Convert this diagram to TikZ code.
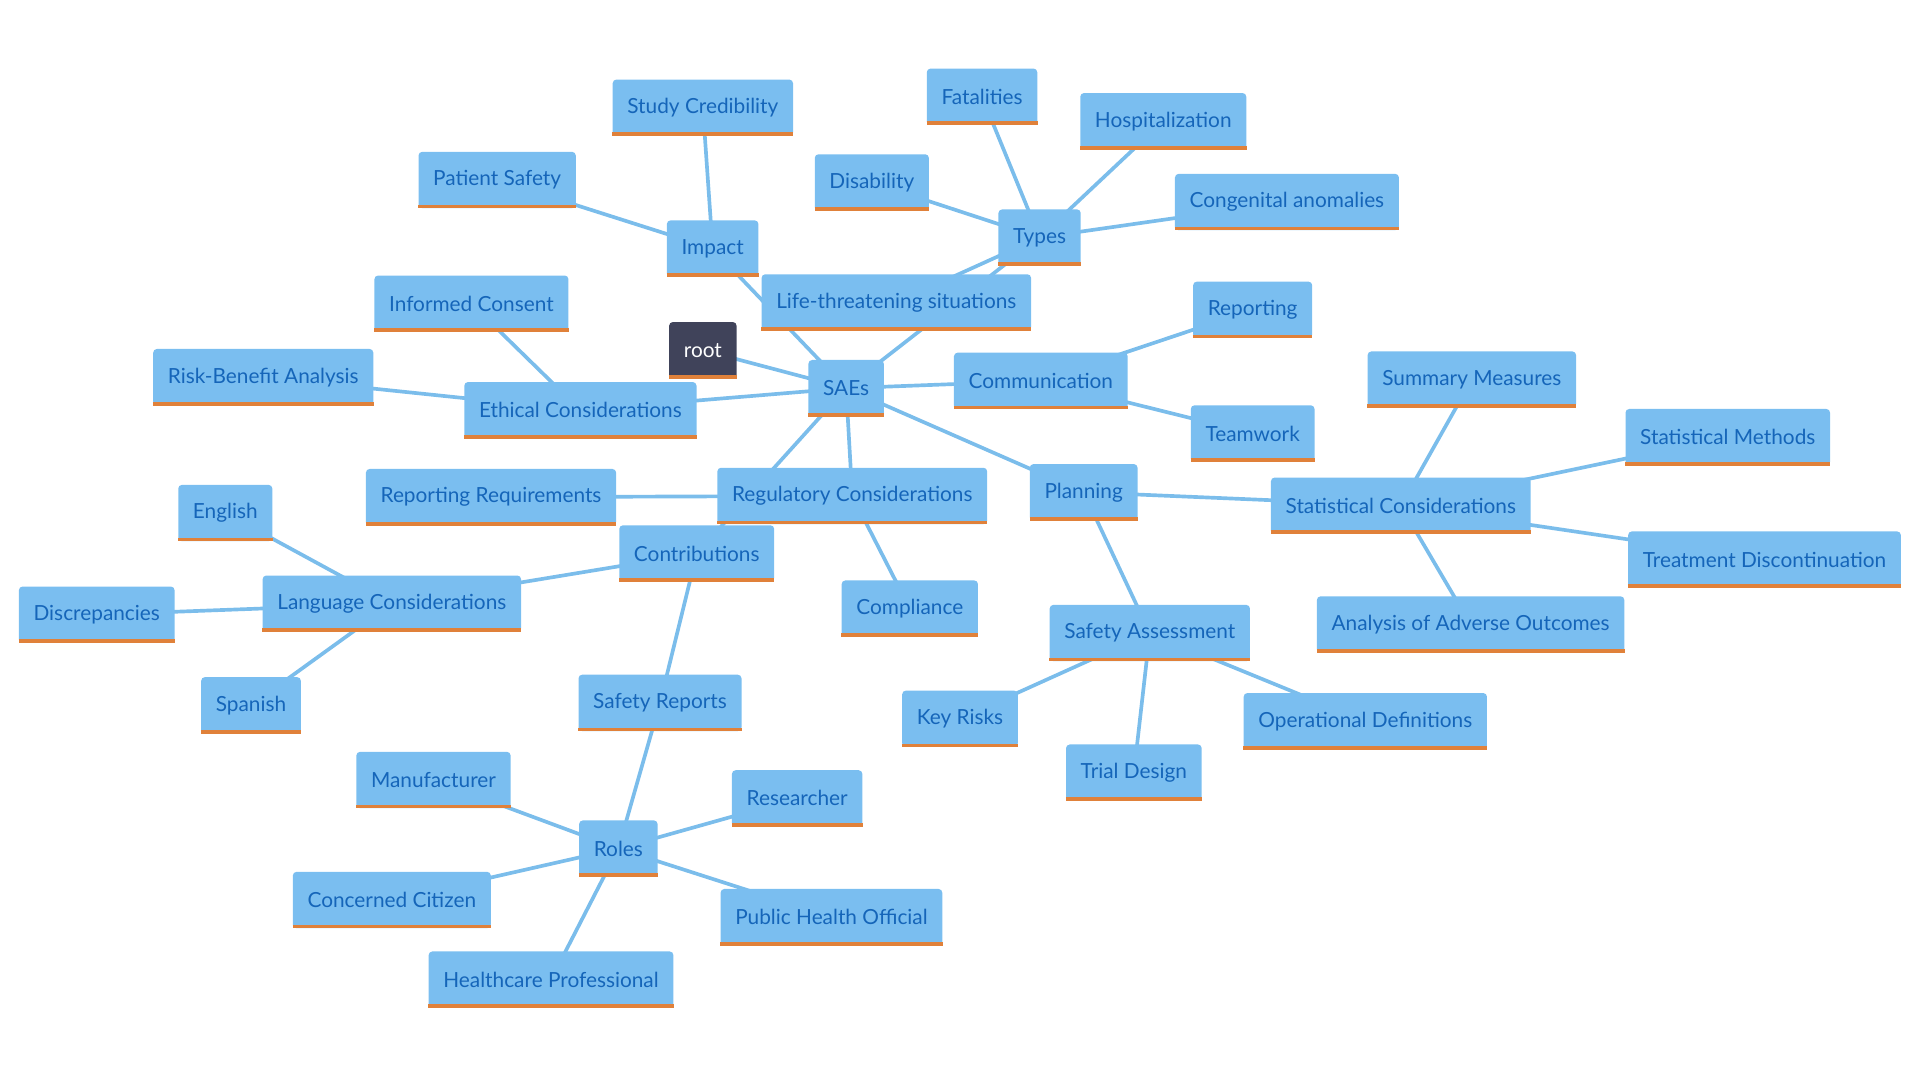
\documentclass[tikz,border=0pt]{standalone}
\usepackage{fontspec}
\setmainfont{Lato}
\usetikzlibrary{positioning}
\definecolor{boxblue}{HTML}{7ABEF0}
\definecolor{edgeblue}{HTML}{7BBDEB}
\definecolor{textblue}{HTML}{1565B9}
\definecolor{barorange}{HTML}{E0813A}
\definecolor{rootgray}{HTML}{40435A}
\pgfdeclarelayer{bg}
\pgfsetlayers{bg,main}
\tikzset{
  topic/.style={fill=boxblue,text=textblue,rounded corners=3pt,inner xsep=12pt,inner ysep=0pt,
    minimum height=46pt,font=\fontsize{17}{20}\selectfont,
    append after command={([yshift=1.5pt]\tikzlastnode.south west) edge[barorange,line width=3pt]
      ([yshift=1.5pt]\tikzlastnode.south east)}},
  rootbox/.style={topic,fill=rootgray,text=white},
  link/.style={edgeblue,line width=3pt}
}

\begin{document}
\begin{tikzpicture}[x=1pt,y=-1pt]
  \useasboundingbox (0,0) rectangle (1568,882);
  % centre
  \node[rootbox] (root) at (574,286) {root};
  \node[topic] (saes) at (691,317) {SAEs};
  % impact and types
  \node[topic] (impact) at (582,203) {Impact};
  \node[topic] (patient) at (406,147) {Patient Safety};
  \node[topic] (credib) at (574,88) {Study Credibility};
  \node[topic] (types) at (849,194) {Types};
  \node[topic] (fatal) at (802,79) {Fatalities};
  \node[topic] (hosp) at (950,99) {Hospitalization};
  \node[topic] (disab) at (712,149) {Disability};
  \node[topic] (congen) at (1051,165) {Congenital anomalies};
  \node[topic] (life) at (732,247) {Life-threatening situations};
  % communication
  \node[topic] (comm) at (850,311) {Communication};
  \node[topic] (report) at (1023,253) {Reporting};
  \node[topic] (team) at (1023,354) {Teamwork};
  % ethics and regulation
  \node[topic] (ethics) at (474,335) {Ethical Considerations};
  \node[topic] (consent) at (385,248) {Informed Consent};
  \node[topic] (riskben) at (215,308) {Risk-Benefit Analysis};
  \node[topic] (regul) at (696,405) {Regulatory Considerations};
  \node[topic] (repreq) at (401,406) {Reporting Requirements};
  \node[topic] (compl) at (743,497) {Compliance};
  % contributions
  \node[topic] (contrib) at (569,452) {Contributions};
  \node[topic] (lang) at (320,493) {Language Considerations};
  \node[topic] (english) at (184,419) {English};
  \node[topic] (discrep) at (79,502) {Discrepancies};
  \node[topic] (spanish) at (205,576) {Spanish};
  \node[topic] (safrep) at (539,574) {Safety Reports};
  \node[topic] (roles) at (505,693) {Roles};
  \node[topic] (manuf) at (354,637) {Manufacturer};
  \node[topic] (research) at (651,652) {Researcher};
  \node[topic] (citizen) at (320,735) {Concerned Citizen};
  \node[topic] (pubhealth) at (679,749) {Public Health Official};
  \node[topic] (hcprof) at (450,800) {Healthcare Professional};
  % planning
  \node[topic] (plan) at (885,402) {Planning};
  \node[topic] (statcons) at (1144,413) {Statistical Considerations};
  \node[topic] (summary) at (1202,310) {Summary Measures};
  \node[topic] (statmeth) at (1411,357) {Statistical Methods};
  \node[topic] (treat) at (1441,457) {Treatment Discontinuation};
  \node[topic] (adverse) at (1201,510) {Analysis of Adverse Outcomes};
  \node[topic] (safass) at (939,517) {Safety Assessment};
  \node[topic] (keyrisk) at (784,587) {Key Risks};
  \node[topic] (trial) at (926,631) {Trial Design};
  \node[topic] (opdef) at (1115,589) {Operational Definitions};
  % connectors
  \begin{pgfonlayer}{bg}
    \foreach \a/\b in {root/saes,saes/impact,saes/types,saes/comm,saes/ethics,saes/regul,
        saes/contrib,saes/plan,impact/patient,impact/credib,types/fatal,types/hosp,
        types/disab,types/congen,types/life,comm/report,comm/team,ethics/consent,
        ethics/riskben,regul/repreq,regul/compl,contrib/lang,contrib/safrep,
        lang/english,lang/discrep,lang/spanish,safrep/roles,roles/manuf,roles/research,
        roles/citizen,roles/pubhealth,roles/hcprof,plan/statcons,plan/safass,
        statcons/summary,statcons/statmeth,statcons/treat,statcons/adverse,
        safass/keyrisk,safass/trial,safass/opdef}
      \draw[link] (\a.center) -- (\b.center);
  \end{pgfonlayer}
\end{tikzpicture}
\end{document}
